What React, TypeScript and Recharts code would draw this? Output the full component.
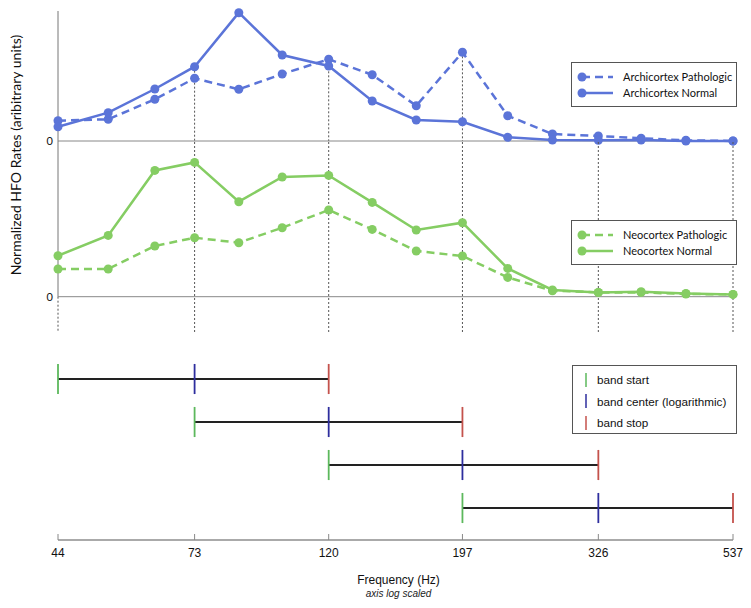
import React from 'react';
import { LineChart, Line, XAxis, YAxis, ReferenceLine, ComposedChart, Label } from 'recharts';

// Frequencies (Hz) of the sampled points (log spaced)
const freqs = [44, 53, 63, 73, 86, 101, 120, 141, 166, 197, 233, 275, 326, 382, 451, 537];
const archicortexPathologic = [20.3, 21.7, 41.7, 62.7, 51.7, 67, 81.7, 66.3, 35.3, 88.7, 25.3, 7, 5, 2.7, 0.7, 0];
const archicortexNormal = [14.3, 28.3, 52, 74.3, 128.3, 86, 75, 40, 21, 19.3, 3.7, 1, 0.7, 1, 0, 0];
const neocortexPathologic = [27.7, 27.7, 50.7, 59, 54, 69, 86.7, 67.3, 45.7, 40.7, 19.3, 6, 4.3, 4.3, 2.7, 2.3];
const neocortexNormal = [41, 61.3, 126.3, 134.3, 95, 119.7, 121.3, 94.3, 66.7, 74, 28.3, 6.7, 4.3, 5, 3.3, 2.3];

const tickFreqs = [44, 73, 120, 197, 326, 537];
const bandStart = [44, 73, 120, 197];
const bandCenter = [73, 120, 197, 326];
const bandStop = [120, 197, 326, 537];
const bandRow = [4, 3, 2, 1];

const BLUE = '#5b74d8';
const GREEN = '#85cd63';
const BAND_GREEN = '#5cb85c';
const BAND_BLUE = '#2e2e9e';
const BAND_RED = '#c4524c';
const SANS = 'Lato, "Open Sans", sans-serif';
const HELV = '"Liberation Sans", Arial, sans-serif';

const archData = freqs.map((f, i) => ({ f, ap: archicortexPathologic[i], an: archicortexNormal[i] }));
const neoData = freqs.map((f, i) => ({ f, np: neocortexPathologic[i], nn: neocortexNormal[i] }));
const bandData = tickFreqs.map((f) => ({ f }));

const archMax = (f: number) => {
  const i = freqs.indexOf(f);
  return Math.max(archicortexPathologic[i], archicortexNormal[i]);
};

const X_MARGIN = { left: 58, right: 18 };
const DOT = (c: string) => ({ r: 4.5, fill: c, stroke: c, strokeWidth: 0 });

const FreqTick = (props: any) => {
  const { x, y, payload } = props;
  return (
    <g>
      <line x1={x} x2={x} y1={y - 6} y2={y} stroke="#888" strokeWidth={1} />
      <text x={x} y={y + 17} textAnchor="middle" fontSize={12} fill="#111" fontFamily={HELV}>
        {payload.value}
      </text>
    </g>
  );
};

const AxisTitle = (props: any) => {
  const vb = props.viewBox || {};
  const cx = (vb.x || 0) + (vb.width || 0) / 2 + 3;
  const y0 = vb.y || 0;
  return (
    <g>
      <text x={cx} y={y0 + 44} textAnchor="middle" fontSize={12} fill="#111" fontFamily={HELV}>
        Frequency (Hz)
      </text>
      <text x={cx} y={y0 + 57} textAnchor="middle" fontSize={10} fontStyle="italic" fill="#222" fontFamily={HELV}>
        axis log scaled
      </text>
    </g>
  );
};

const SeriesLegend = ({ color, items, top }: { color: string; items: { label: string; dashed: boolean }[]; top: number }) => (
  <div
    style={{
      position: 'absolute',
      left: 571,
      top,
      width: 166,
      height: 45,
      boxSizing: 'border-box',
      border: '1px solid #555',
      background: '#fff',
      paddingTop: 6,
      fontFamily: SANS,
      fontSize: 11,
      color: '#111',
      whiteSpace: 'nowrap',
    }}
  >
    {items.map((it) => (
      <div key={it.label} style={{ display: 'flex', alignItems: 'center', height: 16 }}>
        <svg width={51} height={12} style={{ flex: 'none' }}>
          <line x1={10} x2={41} y1={6} y2={6} stroke={color} strokeWidth={2.5} strokeDasharray={it.dashed ? '8 5' : undefined} />
          <circle cx={10} cy={6} r={4.5} fill={color} />
        </svg>
        <span style={{ lineHeight: '16px', whiteSpace: 'nowrap' }}>{it.label}</span>
      </div>
    ))}
  </div>
);

const BandLegend = () => (
  <div
    style={{
      position: 'absolute',
      left: 572,
      top: 365,
      width: 165,
      height: 69,
      boxSizing: 'border-box',
      border: '1px solid #555',
      background: '#fff',
      paddingTop: 3,
      fontFamily: HELV,
      fontSize: 11.7,
      color: '#111',
      whiteSpace: 'nowrap',
    }}
  >
    {[
      { c: BAND_GREEN, t: 'band start' },
      { c: BAND_BLUE, t: 'band center (logarithmic)' },
      { c: BAND_RED, t: 'band stop' },
    ].map((it) => (
      <div key={it.t} style={{ display: 'flex', alignItems: 'center', height: 21.5 }}>
        <svg width={24} height={14} style={{ flex: 'none' }}>
          <line x1={13} x2={13} y1={0} y2={14} stroke={it.c} strokeWidth={1.5} />
        </svg>
        <span>{it.t}</span>
      </div>
    ))}
  </div>
);

export default function App() {
  return (
    <div style={{ position: 'absolute', left: 0, top: 0, width: 751, height: 608, background: '#fff', overflow: 'hidden' }}>
      {/* Y axis title */}
      <svg style={{ position: 'absolute', left: 0, top: 0 }} width={30} height={320}>
        <text
          x={0}
          y={0}
          transform="translate(21,155) rotate(-90)"
          textAnchor="middle"
          fontSize={14}
          fill="#111"
          fontFamily={SANS}
        >
          Normalized HFO Rates (aribitrary units)
        </text>
      </svg>

      {/* Archicortex panel */}
      <div style={{ position: 'absolute', left: 0, top: 0 }}>
        <LineChart width={751} height={150} data={archData} margin={{ top: 11, bottom: 9, ...X_MARGIN }}>
          <XAxis dataKey="f" type="number" scale="log" domain={[44, 537]} hide />
          <YAxis type="number" domain={[0, 130]} hide />
          <ReferenceLine x={44} stroke="#777" strokeWidth={1} ifOverflow="visible" />
          {tickFreqs.slice(1).map((f) => (
            <ReferenceLine
              key={f}
              segment={[{ x: f, y: archMax(f) }, { x: f, y: 0 }]}
              stroke="#555"
              strokeDasharray="2 2"
              ifOverflow="visible"
            />
          ))}
          <ReferenceLine
            y={0}
            stroke="#888"
            strokeWidth={1}
            ifOverflow="visible"
            label={{ value: '0', position: 'left', offset: 5, fontSize: 11, fill: '#111', fontFamily: SANS }}
          />
          <Line dataKey="ap" stroke={BLUE} strokeWidth={2.5} strokeDasharray="8 5" dot={DOT(BLUE)} isAnimationActive={false} />
          <Line dataKey="an" stroke={BLUE} strokeWidth={2.5} dot={DOT(BLUE)} isAnimationActive={false} />
        </LineChart>
      </div>

      {/* Neocortex panel */}
      <div style={{ position: 'absolute', left: 0, top: 130 }}>
        <LineChart width={751} height={212} data={neoData} margin={{ top: 11, bottom: 10, ...X_MARGIN }}>
          <XAxis dataKey="f" type="number" scale="log" domain={[44, 537]} hide />
          <YAxis type="number" domain={[-35.3, 155.7]} hide />
          <ReferenceLine segment={[{ x: 44, y: 155.7 }, { x: 44, y: 0 }]} stroke="#777" strokeWidth={1} ifOverflow="visible" />
          <ReferenceLine
            segment={[{ x: 44, y: 0 }, { x: 44, y: -35.3 }]}
            stroke="#555"
            strokeDasharray="2 2"
            ifOverflow="visible"
          />
          {tickFreqs.slice(1).map((f) => (
            <ReferenceLine key={f} x={f} stroke="#555" strokeDasharray="2 2" ifOverflow="visible" />
          ))}
          <ReferenceLine
            y={0}
            stroke="#888"
            strokeWidth={1}
            ifOverflow="visible"
            label={{ value: '0', position: 'left', offset: 5, fontSize: 11, fill: '#111', fontFamily: SANS }}
          />
          <Line dataKey="np" stroke={GREEN} strokeWidth={2.5} strokeDasharray="8 5" dot={DOT(GREEN)} isAnimationActive={false} />
          <Line dataKey="nn" stroke={GREEN} strokeWidth={2.5} dot={DOT(GREEN)} isAnimationActive={false} />
        </LineChart>
      </div>

      {/* Band panel */}
      <div style={{ position: 'absolute', left: 0, top: 332 }}>
        <ComposedChart width={751} height={276} data={bandData} margin={{ top: 0, bottom: 0, ...X_MARGIN }}>
          <XAxis
            dataKey="f"
            type="number"
            scale="log"
            domain={[44, 537]}
            ticks={tickFreqs}
            interval={0}
            allowDataOverflow
            height={68}
            tickSize={0}
            tickMargin={0}
            tickLine={false}
            axisLine={{ stroke: '#aaa', strokeWidth: 2 }}
            tick={<FreqTick />}
          >
            <Label content={<AxisTitle />} />
          </XAxis>
          <YAxis type="number" domain={[0.256, 5.093]} hide allowDataOverflow />
          {bandRow.map((row, i) => (
            <ReferenceLine
              key={'b' + i}
              segment={[{ x: bandStart[i], y: row }, { x: bandStop[i], y: row }]}
              stroke="#222"
              strokeWidth={2}
              ifOverflow="visible"
            />
          ))}
          {bandRow.map((row, i) => (
            <ReferenceLine
              key={'s' + i}
              segment={[{ x: bandStart[i], y: row - 0.35 }, { x: bandStart[i], y: row + 0.35 }]}
              stroke={BAND_GREEN}
              strokeWidth={1.8}
              ifOverflow="visible"
            />
          ))}
          {bandRow.map((row, i) => (
            <ReferenceLine
              key={'c' + i}
              segment={[{ x: bandCenter[i], y: row - 0.35 }, { x: bandCenter[i], y: row + 0.35 }]}
              stroke={BAND_BLUE}
              strokeWidth={1.8}
              ifOverflow="visible"
            />
          ))}
          {bandRow.map((row, i) => (
            <ReferenceLine
              key={'e' + i}
              segment={[{ x: bandStop[i], y: row - 0.35 }, { x: bandStop[i], y: row + 0.35 }]}
              stroke={BAND_RED}
              strokeWidth={1.8}
              ifOverflow="visible"
            />
          ))}
        </ComposedChart>
      </div>

      <SeriesLegend
        color={BLUE}
        top={62}
        items={[
          { label: 'Archicortex Pathologic', dashed: true },
          { label: 'Archicortex Normal', dashed: false },
        ]}
      />
      <SeriesLegend
        color={GREEN}
        top={220}
        items={[
          { label: 'Neocortex Pathologic', dashed: true },
          { label: 'Neocortex Normal', dashed: false },
        ]}
      />
      <BandLegend />
    </div>
  );
}
